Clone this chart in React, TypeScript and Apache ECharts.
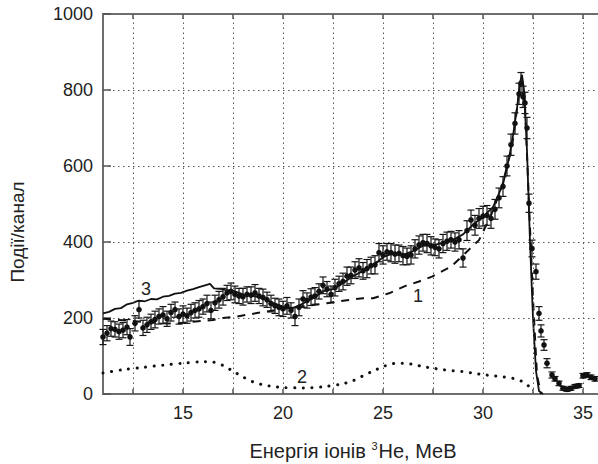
import React, { useEffect, useRef } from "react";
import * as echarts from "echarts";

// Experimental spectrum: energy (MeV), counts per channel, error
const EXP_X = [11.0, 11.2, 11.4, 11.6, 11.8, 12.0, 12.2, 12.35, 12.6, 12.8, 13.0, 13.2, 13.4, 13.6, 13.8, 14.0, 14.2, 14.4, 14.6, 14.8, 15.0, 15.2, 15.4, 15.6, 15.8, 16.0, 16.2, 16.4, 16.6, 16.8, 17.0, 17.2, 17.4, 17.6, 17.8, 18.0, 18.2, 18.4, 18.6, 18.8, 19.0, 19.2, 19.4, 19.6, 19.8, 20.0, 20.2, 20.4, 20.6, 20.8, 21.0, 21.2, 21.4, 21.6, 21.8, 22.0, 22.2, 22.4, 22.6, 22.8, 23.0, 23.2, 23.4, 23.6, 23.8, 24.0, 24.2, 24.4, 24.6, 24.8, 25.0, 25.2, 25.4, 25.6, 25.8, 26.0, 26.2, 26.4, 26.6, 26.8, 27.0, 27.2, 27.4, 27.6, 27.8, 28.0, 28.2, 28.4, 28.6, 28.8, 29.0, 29.2, 29.4, 29.6, 29.8, 30.0, 30.2, 30.4, 30.6, 30.8, 31.0, 31.2, 31.4, 31.6, 31.8, 31.9, 32.0, 32.1, 32.2, 32.3, 32.45, 32.65, 32.8, 32.9, 33.05, 33.2, 33.45, 33.6, 33.8, 34.0, 34.2, 34.4, 34.6, 34.8, 35.0, 35.2, 35.4, 35.6];
const EXP_Y = [150, 160, 172, 170, 164, 168, 176, 150, 186, 222, 174, 182, 190, 196, 204, 208, 198, 214, 222, 204, 210, 206, 214, 220, 224, 230, 238, 220, 240, 248, 256, 266, 270, 262, 258, 256, 262, 260, 266, 258, 254, 248, 238, 232, 228, 224, 232, 220, 204, 228, 250, 246, 255, 258, 270, 286, 276, 262, 280, 290, 296, 310, 312, 326, 332, 324, 330, 338, 340, 372, 366, 374, 372, 368, 370, 364, 362, 366, 382, 392, 398, 396, 390, 386, 382, 396, 402, 406, 400, 406, 358, 430, 458, 444, 462, 468, 470, 462, 486, 516, 546, 600, 656, 712, 790, 818, 782, 766, 700, 502, 383, 322, 212, 166, 129, 81, 50, 40, 28, 15, 12, 15, 20, 22, 48, 50, 44, 40];
const EXP_ERR = [20, 20, 20, 20, 20, 20, 20, 22, 20, 22, 20, 20, 20, 22, 20, 22, 20, 22, 20, 20, 22, 20, 22, 20, 22, 20, 22, 22, 20, 22, 22, 20, 22, 22, 20, 22, 20, 22, 22, 20, 22, 20, 22, 20, 22, 20, 22, 20, 24, 22, 22, 20, 22, 22, 20, 22, 20, 22, 22, 20, 22, 24, 22, 22, 24, 22, 24, 22, 24, 24, 24, 22, 24, 24, 22, 24, 22, 24, 24, 24, 22, 24, 24, 22, 24, 24, 24, 22, 24, 24, 24, 26, 26, 26, 26, 26, 26, 26, 26, 26, 26, 26, 28, 28, 28, 28, 28, 28, 28, 24, 22, 20, 18, 16, 14, 12, 8, 6, 6, 5, 5, 5, 5, 5, 6, 6, 6, 6];

// Curve 1 (dashed)
const C1_X = [11.0, 12.0, 13.0, 14.0, 14.6, 15.5, 16.5, 17.0, 17.7, 18.7, 19.5, 20.5, 21.5, 22.2, 23.2, 24.0, 24.5, 25.3, 26.1, 26.8, 27.45, 28.4, 29.1, 29.8, 30.4, 30.95, 31.45, 31.8, 31.95, 32.1, 32.3, 32.5, 32.7, 32.9];
const C1_Y = [198, 194, 190, 186, 185, 190, 195, 200, 204, 213, 220, 228, 234, 239, 247, 252, 252, 265, 284, 296, 309, 335, 370, 405, 470, 546, 651, 790, 820, 760, 500, 250, 50, 0];

// Curve 2 (dotted)
const C2_X = [11.0, 12.0, 13.0, 14.0, 15.0, 16.0, 16.5, 17.0, 17.5, 18.0, 18.5, 19.0, 19.5, 20.0, 21.0, 22.0, 23.0, 23.5, 24.0, 24.5, 25.0, 25.5, 26.0, 26.5, 27.0, 27.5, 28.0, 28.5, 29.0, 29.5, 30.0, 30.5, 31.0, 31.5, 32.0, 32.3];
const C2_Y = [55, 64, 70, 76, 81, 85, 84, 75, 60, 45, 32, 24, 20, 17, 16, 19, 27, 35, 48, 60, 72, 80, 81, 78, 72, 68, 64, 61, 59, 55, 51, 48, 45, 41, 32, 20];

// Curve 3 (solid)
const C3_X = [11.0, 11.3, 11.6, 11.9, 12.2, 12.5, 12.8, 13.1, 13.4, 13.7, 14.0, 14.3, 14.6, 14.9, 15.2, 15.5, 15.8, 16.1, 16.35, 16.55, 16.8, 17.1, 17.5, 18.0, 18.5, 19.0, 19.5, 20.0, 20.5, 21.0, 21.5, 22.0, 22.5, 23.0, 23.5, 24.0, 24.5, 25.0, 25.5, 26.0, 26.5, 27.0, 27.5, 28.0, 28.5, 29.0, 29.5, 30.0, 30.5, 31.0, 31.3, 31.5, 31.7, 31.85, 31.95, 32.05, 32.2, 32.35, 32.5, 32.65, 32.8, 33.0];
const C3_Y = [212, 216, 224, 226, 236, 240, 246, 244, 250, 249, 256, 258, 264, 266, 272, 276, 281, 286, 290, 278, 277, 274, 272, 262, 258, 252, 240, 230, 226, 238, 252, 270, 276, 292, 310, 324, 338, 360, 370, 366, 376, 390, 392, 398, 406, 420, 446, 466, 492, 552, 620, 680, 752, 820, 840, 800, 640, 400, 200, 60, 8, 0];

const X_MIN = 11;
const X_MAX = 35.75;
const X_LABELS = [15, 20, 25, 30, 35];
const X_GRID = [12.5, 15, 17.5, 20, 22.5, 25, 27.5, 30, 32.5, 35];
const Y_LABELS = [0, 200, 400, 600, 800, 1000];

const FONT = "'Liberation Sans', Arial, sans-serif";

function pairs(xs: number[], ys: number[]) {
  return xs.map((x, i) => [x, ys[i]]);
}

export default function App() {
  const ref = useRef<HTMLDivElement>(null);
  useEffect(() => {
    if (!ref.current) return;
    const chart = echarts.init(ref.current, null, { renderer: "svg" });
    const expData = EXP_X.map((x, i) => [x, EXP_Y[i], EXP_ERR[i]]);
    const axisLine = { show: true, lineStyle: { color: "#6e6e6e", width: 2 } };
    const option: any = {
      animation: false,
      backgroundColor: "#ffffff",
      grid: { left: 103, right: 0, top: 14, bottom: 70, containLabel: false },
      xAxis: [
        {
          type: "value",
          min: X_MIN,
          max: X_MAX,
          axisLine,
          axisTick: { show: true, inside: true, length: 5, customValues: X_GRID, lineStyle: { color: "#555", width: 1.5 } },
          axisLabel: { customValues: X_LABELS, fontSize: 18, color: "#222", fontFamily: FONT, margin: 10, formatter: (v: number) => String(v) },
          splitLine: { show: false },
        },
        {
          type: "value",
          position: "top",
          min: X_MIN,
          max: X_MAX,
          axisLine,
          axisTick: { show: true, inside: true, length: 5, customValues: X_GRID, lineStyle: { color: "#555", width: 1.5 } },
          axisLabel: { show: false },
          splitLine: { show: false },
        },
      ],
      yAxis: [
        {
          type: "value",
          min: 0,
          max: 1000,
          interval: 100,
          axisLine,
          axisTick: { show: true, inside: true, length: 8, customValues: Y_LABELS, lineStyle: { color: "#555", width: 1.5 } },
          axisLabel: { customValues: Y_LABELS, fontSize: 18, color: "#222", fontFamily: FONT, margin: 10, formatter: (v: number) => String(v) },
          splitLine: { show: true, lineStyle: { color: "#555", type: [1.5, 3.5], width: 1 } },
        },
      ],
      graphic: [
        {
          type: "text",
          x: 353,
          y: 451,
          style: {
            text: "{a|Енергія іонів }{s|3}{a|He, МеВ}",
            align: "center",
            verticalAlign: "middle",
            rich: {
              a: { fontSize: 20, fontFamily: FONT, fill: "#222", lineHeight: 22 },
              s: { fontSize: 11, fontFamily: FONT, fill: "#222", verticalAlign: "top", lineHeight: 22, padding: [0, 1, 10, 0] },
            },
          },
        },
        {
          type: "text",
          x: 17.5,
          y: 232,
          rotation: Math.PI / 2,
          style: { text: "Події/канал", fontSize: 19, fontFamily: FONT, fill: "#222", align: "center", verticalAlign: "middle" },
        },
        { type: "text", x: 146, y: 289, style: { text: "3", fontSize: 18, fontFamily: FONT, fill: "#222", align: "center", verticalAlign: "middle" } },
        { type: "text", x: 418, y: 296, style: { text: "1", fontSize: 18, fontFamily: FONT, fill: "#222", align: "center", verticalAlign: "middle" } },
        { type: "text", x: 302, y: 377, style: { text: "2", fontSize: 18, fontFamily: FONT, fill: "#222", align: "center", verticalAlign: "middle" } },
      ],
      series: [
        {
          type: "line",
          name: "grid",
          data: [],
          markLine: {
            silent: true,
            symbol: "none",
            label: { show: false },
            lineStyle: { color: "#555", type: [1.5, 3.5], width: 1 },
            data: X_GRID.map((v) => ({ xAxis: v })),
          },
        },
        {
          type: "line",
          name: "2",
          data: pairs(C2_X, C2_Y),
          showSymbol: false,
          smooth: 0.3,
          lineStyle: { color: "#111", width: 3, type: [0.1, 8.5], cap: "round" },
          z: 3,
        },
        {
          type: "line",
          name: "1",
          data: pairs(C1_X, C1_Y),
          showSymbol: false,
          lineStyle: { color: "#111", width: 2, type: [8, 7] },
          z: 3,
        },
        {
          type: "line",
          name: "3",
          data: pairs(C3_X, C3_Y),
          showSymbol: false,
          lineStyle: { color: "#111", width: 1.8 },
          z: 4,
        },
        {
          type: "custom",
          name: "exp",
          data: expData,
          z: 5,
          renderItem: (params: any, api: any) => {
            const x = api.value(0);
            const y = api.value(1);
            const e = api.value(2);
            const c = api.coord([x, y]);
            const top = api.coord([x, y + e]);
            const bot = api.coord([x, y - e]);
            const cap = 3.5;
            const style = { stroke: "#151515", lineWidth: 1.2 };
            return {
              type: "group",
              children: [
                { type: "line", shape: { x1: c[0], y1: top[1], x2: c[0], y2: bot[1] }, style },
                { type: "line", shape: { x1: c[0] - cap, y1: top[1], x2: c[0] + cap, y2: top[1] }, style },
                { type: "line", shape: { x1: c[0] - cap, y1: bot[1], x2: c[0] + cap, y2: bot[1] }, style },
                { type: "circle", shape: { cx: c[0], cy: c[1], r: 2.8 }, style: { fill: "#111" } },
              ],
            };
          },
        },
      ],
    };
    chart.setOption(option);
    return () => chart.dispose();
  }, []);
  return <div ref={ref} style={{ position: "absolute", left: 0, top: 0, width: 598, height: 464 }} />;
}
